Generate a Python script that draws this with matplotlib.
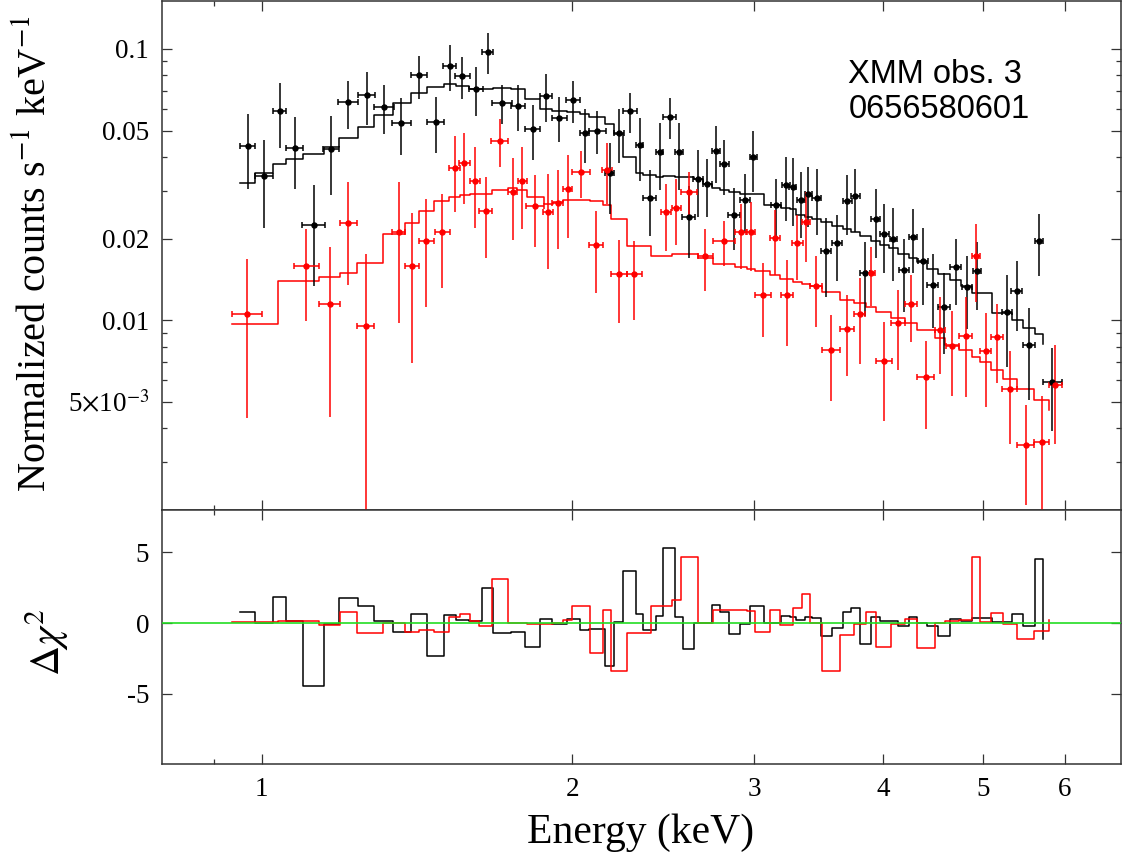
import numpy as np
import matplotlib
matplotlib.use('Agg')
import matplotlib.pyplot as plt
from matplotlib.ticker import FixedLocator, FixedFormatter, NullFormatter

plt.rcParams['font.family'] = ['Liberation Serif', 'DejaVu Serif']
plt.rcParams['mathtext.fontset'] = 'stix'

# ---- spectrum 1 (black): bin centre, half width, rate, error, model, residual
pn_en = [0.969, 1.006, 1.041, 1.076, 1.123, 1.168, 1.213, 1.264, 1.314, 1.366,
         1.421, 1.474, 1.522, 1.565, 1.613, 1.656, 1.710, 1.772, 1.830, 1.886,
         1.943, 2.005, 2.056, 2.115, 2.173, 2.218, 2.273, 2.324, 2.376, 2.430,
         2.485, 2.539, 2.593, 2.647, 2.704, 2.757, 2.807, 2.870, 2.941, 2.996,
         3.151, 3.220, 3.271, 3.330, 3.387, 3.451, 3.524, 3.613, 3.695, 3.762,
         3.845, 3.936, 4.012, 4.094, 4.193, 4.280, 4.371, 4.469, 4.586, 4.704,
         4.822, 4.936, 5.272, 5.393, 5.543, 5.667, 5.839]
pn_de = [0.017, 0.020, 0.015, 0.020, 0.028, 0.021, 0.027, 0.023, 0.029, 0.028,
         0.025, 0.027, 0.022, 0.025, 0.024, 0.021, 0.037, 0.029, 0.032, 0.027,
         0.032, 0.031, 0.021, 0.039, 0.024, 0.025, 0.035, 0.019, 0.033, 0.020,
         0.035, 0.024, 0.036, 0.028, 0.027, 0.026, 0.028, 0.037, 0.033, 0.022,
         0.037, 0.030, 0.024, 0.031, 0.025, 0.035, 0.039, 0.040, 0.034, 0.038,
         0.043, 0.037, 0.040, 0.034, 0.050, 0.038, 0.049, 0.055, 0.063, 0.058,
         0.054, 0.046, 0.059, 0.066, 0.078, 0.053, 0.120]
pn_rate = [0.0440, 0.0341, 0.0589, 0.0432, 0.0224, 0.0429, 0.0636, 0.0675, 0.0612, 0.0532,
           0.0800, 0.0539, 0.0868, 0.0793, 0.0712, 0.0975, 0.0632, 0.0616, 0.0505, 0.0672,
           0.0558, 0.0648, 0.0491, 0.0500, 0.0348, 0.0489, 0.0590, 0.0442, 0.0281, 0.0416,
           0.0563, 0.0416, 0.0241, 0.0332, 0.0317, 0.0420, 0.0376, 0.0244, 0.0277, 0.0398,
           0.0266, 0.0315, 0.0309, 0.0277, 0.0293, 0.0283, 0.0180, 0.0192, 0.0275, 0.0287,
           0.0149, 0.0237, 0.0208, 0.0199, 0.0153, 0.0203, 0.0166, 0.0135, 0.0112, 0.0157,
           0.0133, 0.0152, 0.0107, 0.0128, 0.0081, 0.0196, 0.0059]
pn_err = [0.0135, 0.0122, 0.0158, 0.0127, 0.0090, 0.0139, 0.0128, 0.0150, 0.0126, 0.0126,
          0.0144, 0.0125, 0.0167, 0.0139, 0.0148, 0.0170, 0.0105, 0.0120, 0.0117, 0.0136,
          0.0106, 0.0113, 0.0110, 0.0090, 0.0102, 0.0110, 0.0100, 0.0115, 0.0077, 0.0115,
          0.0098, 0.0115, 0.0072, 0.0092, 0.0076, 0.0100, 0.0086, 0.0063, 0.0068, 0.0100,
          0.0065, 0.0083, 0.0087, 0.0076, 0.0073, 0.0077, 0.0058, 0.0053, 0.0069, 0.0075,
          0.0045, 0.0067, 0.0059, 0.0060, 0.0046, 0.0054, 0.0052, 0.0041, 0.0037, 0.0043,
          0.0040, 0.0043, 0.0040, 0.0037, 0.0030, 0.0050, 0.0020]
pn_model = [0.0321, 0.0350, 0.0375, 0.0392, 0.0410, 0.0436, 0.0468, 0.0517, 0.0571, 0.0630,
            0.0686, 0.0722, 0.0741, 0.0730, 0.0710, 0.0710, 0.0718, 0.0710, 0.0654, 0.0600,
            0.0590, 0.0584, 0.0574, 0.0560, 0.0527, 0.0486, 0.0400, 0.0350, 0.0343, 0.0336,
            0.0340, 0.0338, 0.0336, 0.0332, 0.0319, 0.0308, 0.0302, 0.0297, 0.0293, 0.0292,
            0.0265, 0.0260, 0.0256, 0.0244, 0.0240, 0.0237, 0.0231, 0.0222, 0.0216, 0.0212,
            0.0204, 0.0196, 0.0190, 0.0184, 0.0176, 0.0170, 0.0164, 0.0155, 0.0148, 0.0141,
            0.0134, 0.0126, 0.0106, 0.0100, 0.0094, 0.0089, 0.0082]
pn_resid = [0.78, 0.0, 1.85, 0.12, -4.43, -0.05, 1.78, 1.18, 0.12, -0.64,
            0.64, -2.30, 0.59, 0.23, 0.12, 2.49, -0.67, -0.60, -1.70, 0.28,
            -0.07, 0.30, -0.48, -0.43, -3.03, 0.04, 3.67, 0.66, -0.48, 0.52,
            5.33, 0.43, -1.83, 0.0, -0.02, 1.25, 0.75, -0.76, -0.07, 1.18,
            0.02, 0.50, 0.45, 0.19, 0.43, 0.36, -0.90, -0.36, 0.78, 1.07,
            -1.47, 0.43, 0.12, 0.12, -0.24, 0.40, 0.0, -0.24, -0.90, 0.26,
            0.12, 0.36, 0.04, 0.64, -0.19, 4.55, -1.14]

# ---- spectrum 2 (red)
mos_en = [0.968, 1.105, 1.164, 1.213, 1.261, 1.358, 1.399, 1.444, 1.496, 1.538,
          1.572, 1.608, 1.648, 1.700, 1.751, 1.789, 1.841, 1.894, 1.936, 1.980,
          2.040, 2.110, 2.162, 2.218, 2.297, 2.466, 2.522, 2.596, 2.691, 2.807,
          2.915, 2.979, 3.060, 3.145, 3.228, 3.305, 3.368, 3.443, 3.561, 3.690,
          3.800, 3.892, 4.010, 4.134, 4.258, 4.401, 4.543, 4.670, 4.811, 4.922,
          5.029, 5.162, 5.311, 5.498, 5.698, 5.878]
mos_de = [0.033, 0.031, 0.027, 0.023, 0.025, 0.020, 0.023, 0.025, 0.025, 0.019,
          0.018, 0.018, 0.023, 0.031, 0.018, 0.019, 0.036, 0.020, 0.023, 0.020,
          0.042, 0.032, 0.023, 0.039, 0.038, 0.029, 0.025, 0.048, 0.046, 0.069,
          0.038, 0.030, 0.053, 0.035, 0.045, 0.038, 0.029, 0.045, 0.070, 0.059,
          0.047, 0.039, 0.070, 0.064, 0.059, 0.086, 0.050, 0.070, 0.072, 0.042,
          0.065, 0.067, 0.089, 0.102, 0.098, 0.087]
mos_rate = [0.01058, 0.01586, 0.01152, 0.02286, 0.0095, 0.02107, 0.01586, 0.0196, 0.02117, 0.0363,
            0.0379, 0.0326, 0.0253, 0.0459, 0.0297, 0.0326, 0.0264, 0.0251, 0.0271, 0.0304,
            0.0351, 0.01891, 0.0358, 0.01478, 0.01478, 0.02496, 0.0260, 0.0296, 0.01727, 0.01956,
            0.02117, 0.02117, 0.01244, 0.0201, 0.01237, 0.0193, 0.0231, 0.01335, 0.00775, 0.00932,
            0.01058, 0.01494, 0.00706, 0.00977, 0.01152, 0.00618, 0.00924, 0.00804, 0.00873, 0.0172,
            0.0077, 0.00868, 0.0056, 0.00348, 0.00356, 0.00579]
mos_err = [0.0062, 0.0059, 0.0071, 0.0094, 0.0081, 0.0113, 0.0089, 0.0084, 0.0080, 0.0113,
           0.0112, 0.0107, 0.0083, 0.0092, 0.0100, 0.0110, 0.0078, 0.0096, 0.0088, 0.0103,
           0.0069, 0.0063, 0.0090, 0.0050, 0.0048, 0.0069, 0.0071, 0.0057, 0.0045, 0.0037,
           0.0057, 0.0060, 0.0038, 0.0054, 0.0043, 0.0052, 0.0067, 0.0039, 0.0027, 0.0031,
           0.0037, 0.0037, 0.0028, 0.0032, 0.0032, 0.0022, 0.0029, 0.0028, 0.0035, 0.0055,
           0.0029, 0.0028, 0.0021, 0.0014, 0.0017, 0.0023]
mos_model = [0.00967, 0.01393, 0.01445, 0.01494, 0.0162, 0.0207, 0.02286, 0.0253, 0.02756, 0.0285,
             0.0289, 0.0292, 0.0293, 0.0302, 0.0306, 0.0302, 0.0285, 0.0269, 0.0273, 0.0277,
             0.0277, 0.0275, 0.0266, 0.0237, 0.01875, 0.0172, 0.01747, 0.0175, 0.0170, 0.0161,
             0.01573, 0.01551, 0.0152, 0.01466, 0.01425, 0.01385, 0.01358, 0.01335, 0.01272, 0.0119,
             0.01155, 0.0112, 0.01073, 0.01023, 0.0098, 0.00919, 0.00863, 0.00813, 0.00775, 0.00732,
             0.00702, 0.00654, 0.00609, 0.0056, 0.00508, 0.00466]
mos_resid = [0.05, 0.12, -0.17, 0.78, -0.71, 0.0, -0.64, -0.48, -0.64, 0.43,
             0.62, 0.12, -0.24, 3.13, 0.0, 0.03, -0.07, -0.05, -0.02, 0.20,
             1.23, -2.09, 0.92, -3.41, -0.67, 1.23, 1.66, 4.64, 0.0, 0.92,
             0.95, 0.85, -0.60, 0.90, -0.17, 1.07, 2.02, 0.0, -3.41, -0.83,
             -0.07, 0.78, -1.73, -0.07, 0.30, -1.80, 0.0, 0.16, 0.19, 4.70,
             0.08, 0.70, -0.05, -1.15, -0.58, 0.20]

rate_ticks = [0.005, 0.01, 0.02, 0.05, 0.1]
rate_labels = [r'5$\times$10$^{-3}$', '0.01', '0.02', '0.05', '0.1']
rate_minor = [0.003, 0.004, 0.006, 0.007, 0.008, 0.009, 0.03, 0.04, 0.06, 0.07, 0.08, 0.09]
en_ticks = [1, 2, 3, 4, 5, 6]
en_labels = ['1', '2', '3', '4', '5', '6']
chi_ticks = [-5, 0, 5]
chi_labels = ['-5', '0', '5']


def step_edges(en, de):
    # left edge of each bin; neighbouring bins meet half way between them
    en = np.asarray(en)
    de = np.asarray(de)
    lo = en - de
    hi = en + de
    edges = np.empty(len(en))
    edges[0] = lo[0]
    edges[1:] = 0.5 * (hi[:-1] + lo[1:])
    return edges


fig = plt.figure(figsize=(11.23, 8.59), dpi=100)
ax1 = fig.add_axes([0.144, 0.4063, 0.854, 0.5925])
ax2 = fig.add_axes([0.144, 0.1102, 0.854, 0.2961], sharex=ax1)

series = [(pn_en, pn_de, pn_rate, pn_err, pn_model, pn_resid, 'black'),
          (mos_en, mos_de, mos_rate, mos_err, mos_model, mos_resid, '#ff0000')]

for en, de, rate, err, model, resid, col in series:
    ax1.errorbar(en, rate, xerr=de, fmt='o', ms=3.6, color=col, ecolor=col,
                 elinewidth=1.1, capsize=2.2, capthick=1.1, zorder=3)
    ax1.errorbar(en, rate, yerr=err, fmt='none', ecolor=col, elinewidth=1.1,
                 capsize=0, zorder=3)
    edges = step_edges(en, de)
    ax1.step(edges, model, where='post', color=col, lw=1.1, zorder=2)
    ax2.step(edges, resid, where='post', color=col, lw=1.1, zorder=2)

ax2.axhline(0, color='#22dd22', lw=1.2, zorder=4)

ax1.set_xscale('log')
ax1.set_yscale('log')
ax1.set_xlim(0.8, 6.8)
ax1.set_ylim(0.002, 0.15)
ax2.set_ylim(-10, 8)

for ax in (ax1, ax2):
    ax.xaxis.set_major_locator(FixedLocator(en_ticks))
    ax.xaxis.set_major_formatter(FixedFormatter(en_labels))
    ax.xaxis.set_minor_locator(FixedLocator([0.9]))
    ax.xaxis.set_minor_formatter(NullFormatter())
    ax.tick_params(which='both', direction='in', top=True, right=True,
                   width=0.9, color='#333333', labelsize=19.5, pad=9)
    ax.tick_params(which='major', length=7.2)
    ax.tick_params(which='minor', length=3.6)
    for sp in ax.spines.values():
        sp.set_color('#333333')
        sp.set_linewidth(1.1)

ax1.yaxis.set_major_locator(FixedLocator(rate_ticks))
ax1.yaxis.set_major_formatter(FixedFormatter(rate_labels))
ax1.yaxis.set_minor_locator(FixedLocator(rate_minor))
ax1.yaxis.set_minor_formatter(NullFormatter())
ax1.tick_params(labelbottom=False)

ax2.yaxis.set_major_locator(FixedLocator(chi_ticks))
ax2.yaxis.set_major_formatter(FixedFormatter(chi_labels))

fig.text(0.031, 0.705, r'Normalized counts s$^{-1}$ keV$^{-1}$', rotation=90,
         ha='center', va='center', fontsize=29)
fig.text(0.042, 0.252, r'$\Delta\chi^2$', rotation=90, ha='center', va='center',
         fontsize=30)
fig.text(0.570, 0.030, 'Energy (keV)', ha='center', va='center', fontsize=30)

fig.text(0.7554, 0.903, 'XMM obs. 3', family='Liberation Sans', fontsize=23.5,
         va='baseline', ha='left')
fig.text(0.7554, 0.8623, '0656580601', family='Liberation Sans', fontsize=23.5,
         va='baseline', ha='left')

fig.savefig('out.png', dpi=100)
